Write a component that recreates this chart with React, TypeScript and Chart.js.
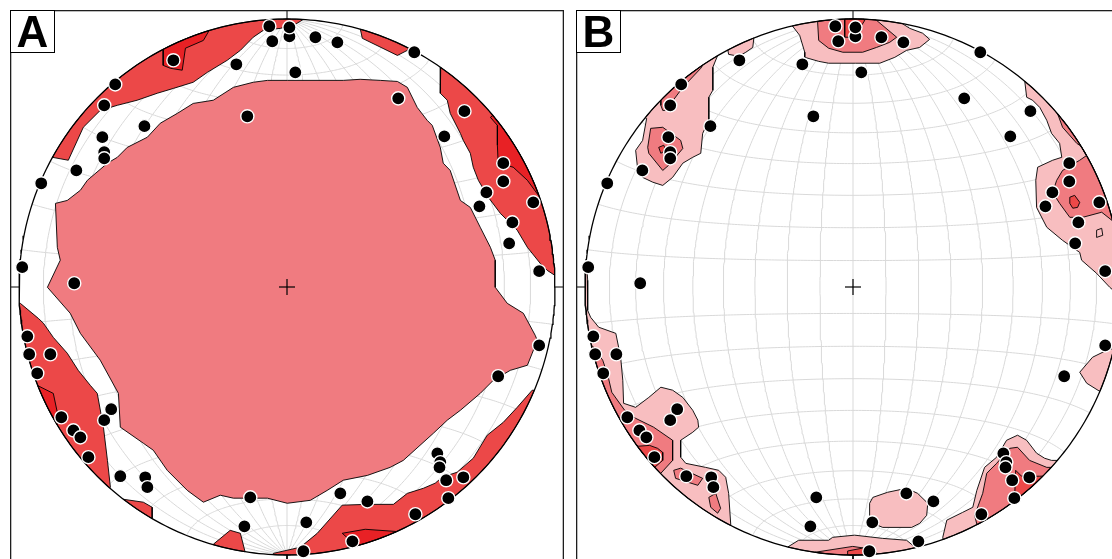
import { useEffect, useRef } from "react";
import { Chart, registerables } from "chart.js";

Chart.register(...registerables);

// Net geometry: primitive circle has radius 100 in data units.
const NET_R = 100;
const AXIS_LIMIT = 103.36;
const PANEL_SIZE = 554;
const GRID_STEP = 10;
const GRID_COLOR = "#d9d9d9";

const panelLabels = ["A", "B"];

// Grid: meridians every 10°, small circles about the N–S axis every 10° from ±8°.
const meridianLons = [-80, -70, -60, -50, -40, -30, -20, -10, 0, 10, 20, 30, 40, 50, 60, 70, 80];
const parallelLats = [-78, -68, -58, -48, -38, -28, -18, -8, 8, 18, 28, 38, 48, 58, 68, 78];

// Poles, equal-area projected (x east, y north), same set on both nets.
const poleX = [
  -6.6, 0.9, 0.9, -5.5, 10.6, 18.8, 3.1, -18.9, -42.4, -64.1, -68.2, -53.2, -68.9, -68.2, -68.2,
  -78.6, -91.7, -14.8, 47.5, 41.5, 66.2, 58.7, 80.7, 80.7, 74.4, 91.9, 71.8, 84.1, 82.9, 94.1,
  94.1, 78.8, -98.8, -79.4, -96.9, -96.2, -88.3, -93.2, -84.2, -79.7, -77.1, -74.1, -65.6, -68.2,
  -62.2, -52.9, -52.1, -13.7, -15.9, 6.1, 7.2, 24.4, 19.9, 30.0, 47.9, 60.2, 65.8, 59.4, 56.1,
  57.2, 56.9,
];
const poleY = [
  97.3, 93.5, 96.9, 91.7, 93.2, 91.3, 80.1, 83.1, 84.6, 75.6, 67.8, 60.0, 55.9, 50.3, 48.0,
  43.5, 38.7, 63.7, 87.6, 70.4, 65.6, 56.2, 46.2, 39.4, 35.3, 31.6, 30.1, 24.1, 16.3, 5.9,
  -21.8, -33.3, 7.4, 1.4, -18.4, -25.1, -25.1, -32.2, -48.6, -53.5, -56.1, -63.5, -45.6, -49.7,
  -70.6, -71.0, -74.7, -78.5, -89.3, -98.6, -87.8, -94.9, -77.0, -80.0, -84.8, -78.8, -71.0,
  -72.1, -62.1, -65.4, -67.3,
];

// Contour fill colours, lowest level first.
const fillsA = ["#F07B80", "#EC4848", "#E82125"];
const fillsB = ["#F8BEC0", "#F07B80", "#EC4848"];

type Ring = { level: number; xy: number[] };

// Density contours of net A (vertices beyond the rim are cut at the primitive circle).
const contoursA: Ring[] = [
  { level: 0, xy: [0.1, 77.1, 21.0, 77.1, 27.3, 77.5, 34.8, 77.1, 41.2, 76.7, 44.9, 74.5, 48.6, 67.0, 52.3, 62.2, 54.2, 60.3, 57.2, 52.1, 58.3, 46.2, 60.9, 43.5, 64.7, 32.3, 68.4, 29.7, 72.1, 22.3, 75.9, 14.8, 77.7, 10.0, 77.7, -0.1, 82.2, -6.1, 88.2, -9.8, 92.6, -18.0, 93.4, -19.9, 91.5, -24.7, 89.7, -29.2, 83.3, -31.1, 77.0, -34.8, 72.1, -39.7, 64.7, -46.0, 59.8, -49.7, 54.6, -54.6, 43.4, -64.7, 38.5, -67.3, 30.0, -70.3, 21.0, -72.1, 15.0, -75.9, 8.7, -79.6, 0.1, -80.7, -7.3, -78.8, -20.0, -78.8, -24.9, -77.7, -31.2, -80.3, -37.2, -75.9, -44.7, -68.4, -49.9, -60.9, -53.6, -58.3, -62.2, -52.3, -62.9, -39.7, -69.7, -27.3, -77.1, -17.3, -80.9, -9.8, -89.4, -0.1, -84.6, 10.0, -85.7, 14.8, -86.4, 31.2, -82.0, 32.3, -77.1, 36.1, -74.5, 39.8, -67.0, 46.2, -63.3, 48.4, -59.6, 52.1, -52.1, 55.9, -47.3, 61.1, -40.9, 64.8, -35.0, 68.5, -27.5, 69.7, -20.0, 74.5, -12.6, 76.4, -7.3, 77.1] },
  { level: 1, xy: [-87.6, 48.4, -81.6, 47.3, -76.0, 59.6, -69.7, 65.9, -63.3, 67.8, -55.9, 69.7, -48.4, 72.3, -42.4, 74.1, -35.0, 76.4, -29.7, 80.1, -22.3, 84.6, -17.4, 88.3, -12.6, 93.2, -8.8, 95.8, -2.5, 96.5, 3.1, 98.0, 6.8, 100.3, 10, 110, -60, 100, -100, 60, -100, 45] },
  { level: 1, xy: [27.3, 96.5, 28.1, 92.8, 41.2, 86.4, 44.9, 88.3, 50, 95, 30, 105] },
  { level: 1, xy: [57.2, 82.0, 57.2, 72.3, 59.8, 69.7, 60.9, 64.8, 64.7, 57.3, 65.8, 54.7, 68.4, 49.9, 69.5, 44.7, 71.4, 39.8, 75.1, 33.5, 79.6, 27.5, 85.9, 21.2, 89.7, 14.8, 94.5, 8.8, 97.1, 6.2, 100.5, 4.0, 110, 0, 110, 70, 60, 100] },
  { level: 1, xy: [-99.5, -6.1, -92.8, -11.7, -90.9, -13.5, -87.2, -18.8, -82.0, -24.7, -77.9, -31.1, -73.4, -36.7, -70.8, -39.7, -68.5, -52.3, -67.0, -64.7, -65.9, -74.7, -80, -90, -115, -40, -110, 0] },
  { level: 1, xy: [-61.1, -79.2, -53.6, -80.3, -50.3, -82.2, -50.3, -86.3, -55, -100, -75, -80] },
  { level: 1, xy: [-27.5, -96.0, -21.2, -90.8, -17.4, -91.9, -15.6, -99.0, -15, -110, -30, -105] },
  { level: 1, xy: [-5.1, -99.4, 5.0, -97.1, 11.3, -91.9, 20.6, -81.4, 30.0, -81.1, 39.7, -81.1, 44.9, -77.0, 50.9, -75.1, 55.3, -73.2, 57.9, -71.0, 63.5, -69.1, 69.5, -63.9, 74.7, -55.3, 80.7, -50.5, 85.9, -44.9, 91.5, -38.5, 110, -40, 60, -110, -5, -110] },
  { level: 2, xy: [-46.2, 88.7, -46.2, 82.7, -43.5, 81.6, -39.1, 80.9, -37.9, 89.1, -31.2, 92.0, -29.0, 95.8, -25, 105, -55, 95] },
  { level: 2, xy: [75.9, 63.3, 78.5, 60.3, 78.5, 52.9, 78.8, 46.2, 84.4, 44.7, 89.7, 39.8, 93.8, 34.2, 110, 40, 90, 75] },
  { level: 2, xy: [-93.2, -36.7, -87.2, -39.7, -85.7, -46.8, -84.6, -49.8, -100, -70, -110, -35] },
  { level: 2, xy: [20.6, -91.9, 29.2, -90.4, 40.4, -91.2, 50, -105, 30, -110, 24.4, -95.3] },
];

// Density contours of net B.
const contoursB: Ring[] = [
  { level: 0, xy: [-22.5, 97.3, -19.9, 93.9, -18.0, 87.6, -18.0, 85.7, -12.8, 84.2, -9.1, 83.5, 1.0, 83.5, 10.0, 83.5, 15.6, 85.7, 20.0, 88.3, 24.9, 89.4, 28.6, 92.4, 26.0, 94.7, 21.2, 96.5, 18.2, 98.4, 10, 110, -25, 105] },
  { level: 0, xy: [-46.7, 88.3, -46.4, 86.8, -42.6, 86.1, -40.0, 87.6, -37.4, 89.4, -37.0, 92.8, -35, 100, -50, 95] },
  { level: 0, xy: [-50.5, 86.4, -52.3, 82.0, -52.3, 73.4, -53.8, 70.8, -53.8, 62.2, -56.1, 57.3, -56.8, 49.9, -59.8, 48.4, -63.5, 46.2, -67.3, 40.9, -71.0, 37.9, -74.7, 39.1, -78.5, 40.9, -80.3, 43.5, -81.1, 51.0, -78.5, 54.7, -77.0, 62.9, -95, 70, -60, 100] },
  { level: 0, xy: [64.1, 76.7, 64.8, 70.8, 67.0, 69.7, 69.7, 67.0, 72.3, 62.2, 74.1, 57.3, 77.1, 53.6, 77.9, 48.4, 74.5, 47.3, 68.9, 44.7, 68.2, 39.8, 68.5, 29.7, 72.3, 22.3, 78.2, 17.4, 84.6, 12.9, 85.3, 10.0, 90.9, 5.1, 95.8, -0.1, 101.4, -5.0, 120, 0, 110, 60, 70, 90] },
  { level: 0, xy: [-99.7, 13.7, -99.0, 2.5, -99.0, -8.7, -97.9, -11.3, -94.9, -15.0, -88.5, -17.3, -86.7, -26.2, -85.9, -34.8, -85.6, -43.4, -81.1, -44.9, -76.2, -41.2, -71.7, -37.4, -67.3, -38.5, -63.5, -41.2, -59.8, -46.0, -57.9, -49.7, -57.6, -52.3, -59.8, -54.2, -64.3, -57.2, -64.3, -63.5, -62.4, -65.8, -55.0, -67.3, -50.1, -68.4, -47.5, -71.0, -46.4, -77.0, -45.6, -88.9, -50, -105, -90, -70, -110, 0, -105, 15] },
  { level: 0, xy: [6.2, -80.7, 7.4, -78.5, 12.9, -76.6, 20.0, -75.1, 24.1, -77.0, 27.9, -80.7, 27.5, -85.2, 24.9, -88.2, 21.9, -89.7, 11.1, -89.7, 7.4, -88.2, 6.2, -85.9] },
  { level: 0, xy: [-25.1, -97.5, -20.3, -94.5, -9.1, -94.5, -7.6, -93.4, 0.6, -92.6, 11.1, -93.8, 20.0, -94.5, 22.3, -96.4, 24.9, -97.1, 25, -110, -25, -110] },
  { level: 0, xy: [33.5, -93.4, 35.0, -87.0, 40.9, -84.1, 44.7, -82.2, 46.2, -75.9, 49.1, -67.3, 53.6, -63.5, 57.3, -57.2, 61.4, -55.3, 64.8, -57.2, 68.5, -62.0, 71.5, -63.9, 74.1, -64.7, 76.4, -64.7, 95, -60, 60, -110, 35, -105] },
  { level: 0, xy: [84.6, -31.8, 89.4, -26.2, 94.7, -23.6, 101.4, -21.8, 110, -40, 92.0, -38.9, 87.2, -35.9] },
  { level: 0, xy: [90.9, 21.2, 92.8, 21.9, 93.2, 19.3, 90.9, 18.5] },
  { level: 1, xy: [-13.2, 98.8, -12.8, 92.0, -9.1, 89.1, -3.8, 87.6, 3.6, 87.6, 8.8, 89.4, 13.7, 91.3, 16.3, 93.2, 8.8, 99.5, 0, 108] },
  { level: 1, xy: [-71.7, 69.7, -71.7, 67.8, -71.0, 65.9, -69.9, 65.9, -63.5, 74.5, -56.8, 81.6, -56.1, 82.7, -60, 95, -85, 70] },
  { level: 1, xy: [-75.5, 59.2, -71.0, 59.6, -64.3, 54.7, -63.5, 51.7, -68.8, 45.4, -71.0, 43.5, -76.2, 49.9, -76.6, 52.1] },
  { level: 1, xy: [75.6, 66.7, 78.2, 59.6, 83.5, 53.6, 85.7, 52.1, 87.2, 49.1, 84.6, 47.3, 78.2, 43.5, 76.0, 39.8, 74.5, 35.3, 77.1, 31.2, 80.9, 26.0, 85.7, 26.0, 92.8, 27.9, 97.6, 24.1, 110, 20, 100, 70, 75, 80] },
  { level: 1, xy: [-97.2, -22.0, -93.4, -27.3, -91.5, -32.9, -90.0, -39.3, -85.2, -46.0, -81.1, -49.0, -74.4, -52.3, -67.3, -57.2, -67.3, -64.7, -71.7, -69.5, -85, -75, -110, -30, -100, -20] },
  { level: 1, xy: [-66.9, -68.4, -64.3, -67.6, -56.1, -71.4, -57.9, -74.0, -66.2, -71.4] },
  { level: 1, xy: [-53.8, -78.5, -51.2, -77.0, -49.4, -82.6, -50.5, -84.4, -53.1, -82.2] },
  { level: 1, xy: [-14.3, -99.0, -0.1, -96.8, 7.4, -97.9, 10.0, -100.5, 0, -110] },
  { level: 1, xy: [46.2, -88.5, 45.4, -85.2, 48.4, -77.0, 49.9, -69.5, 53.6, -65.8, 58.5, -60.2, 61.4, -59.8, 65.9, -64.7, 72.3, -67.3, 74.5, -67.3, 90, -65, 55, -100] },
  { level: 2, xy: [-3.1, 99.9, -3.1, 93.2, -0.5, 93.2, 2.5, 96.5, 4.4, 99.5, 0, 106] },
  { level: 2, xy: [-72.5, 52.1, -70.6, 52.9, -69.9, 51.0, -71.7, 49.9] },
  { level: 2, xy: [80.9, 33.5, 82.7, 34.2, 84.6, 31.6, 83.8, 29.7, 82.0, 29.4, 80.9, 31.2] },
  { level: 2, xy: [-80.0, -59.4, -75.9, -59.1, -72.9, -60.2, -71.0, -61.7, -71.0, -64.7, -74.0, -67.3, -85, -75, -90, -55] },
  { level: 2, xy: [-2, -98.5, 4.8, -97.2, 7.4, -97.9, 8, -105, -2, -105] },
  { level: 2, xy: [60.7, -68.4, 62.9, -70.6, 69.7, -70.6, 85, -70, 70, -90, 60.3, -78.8] },
];

type Pt = { x: number; y: number };

const rad = (d: number) => (d * Math.PI) / 180;

// Lambert equal-area (Schmidt) projection of a lon/lat pair, poles at N and S.
function schmidt(lon: number, lat: number): Pt {
  const cl = Math.cos(rad(lat));
  const k = NET_R / Math.sqrt(1 + cl * Math.cos(rad(lon)));
  return { x: k * cl * Math.sin(rad(lon)), y: k * Math.sin(rad(lat)) };
}

// Sutherland–Hodgman clip of a ring against the primitive circle.
function clipToNet(flat: number[]): Pt[] {
  let out: Pt[] = [];
  for (let i = 0; i < flat.length; i += 2) out.push({ x: flat[i], y: flat[i + 1] });
  const n = 360;
  for (let k = 0; k < n && out.length; k++) {
    const a0 = (2 * Math.PI * k) / n;
    const a1 = (2 * Math.PI * (k + 1)) / n;
    const ax = NET_R * Math.cos(a0), ay = NET_R * Math.sin(a0);
    const bx = NET_R * Math.cos(a1), by = NET_R * Math.sin(a1);
    const side = (p: Pt) => (bx - ax) * (p.y - ay) - (by - ay) * (p.x - ax);
    const cut = (p: Pt, q: Pt): Pt => {
      const sp = side(p), sq = side(q);
      const t = sp / (sp - sq);
      return { x: p.x + (q.x - p.x) * t, y: p.y + (q.y - p.y) * t };
    };
    const input = out;
    out = [];
    for (let i = 0; i < input.length; i++) {
      const cur = input[i];
      const prev = input[(i + input.length - 1) % input.length];
      const cIn = side(cur) >= 0, pIn = side(prev) >= 0;
      if (cIn) {
        if (!pIn) out.push(cut(prev, cur));
        out.push(cur);
      } else if (pIn) {
        out.push(cut(prev, cur));
      }
    }
  }
  if (out.length) out.push({ ...out[0] });
  return out;
}

function lineSet(data: Pt[], color: string, width: number) {
  return { data, showLine: true, pointRadius: 0, borderColor: color, borderWidth: width, fill: false };
}

function buildDatasets(rings: Ring[], fills: string[]) {
  const ds: any[] = [];
  // meridians (great circles through N and S)
  for (const lon of meridianLons) {
    const d: Pt[] = [];
    for (let lat = -90; lat <= 90; lat += 1) d.push(schmidt(lon, lat));
    ds.push(lineSet(d, GRID_COLOR, 1));
  }
  // small circles about the N–S axis
  for (const lat of parallelLats) {
    const d: Pt[] = [];
    for (let lon = -90; lon <= 90; lon += 1) d.push(schmidt(lon, lat));
    ds.push(lineSet(d, GRID_COLOR, 1));
  }
  // contour fills, lowest level first
  const sorted = [...rings].sort((a, b) => a.level - b.level);
  for (const r of sorted) {
    ds.push({
      data: clipToNet(r.xy),
      showLine: true,
      pointRadius: 0,
      borderColor: "#000",
      borderWidth: 0.9,
      backgroundColor: fills[r.level],
      fill: "shape",
    });
  }
  // primitive circle
  const rim: Pt[] = [];
  for (let a = 0; a <= 360; a += 1) rim.push({ x: NET_R * Math.cos(rad(a)), y: NET_R * Math.sin(rad(a)) });
  ds.push(lineSet(rim, "#000", 1.3));
  // cardinal ticks from the rim to the frame
  for (let a = 0; a < 360; a += 90) {
    const c = Math.cos(rad(a)), s = Math.sin(rad(a));
    ds.push(lineSet([{ x: NET_R * c, y: NET_R * s }, { x: 106 * c, y: 106 * s }], "#000", 1));
  }
  // centre cross
  ds.push(lineSet([{ x: -3, y: 0 }, { x: 3, y: 0 }], "rgba(0,0,0,0.8)", 1.5));
  ds.push(lineSet([{ x: 0, y: -3 }, { x: 0, y: 3 }], "rgba(0,0,0,0.8)", 1.5));
  // poles
  ds.push({
    data: poleX.map((x, i) => ({ x, y: poleY[i] })),
    showLine: false,
    pointRadius: 6.6,
    pointBackgroundColor: "#000",
    pointBorderColor: "#fff",
    pointBorderWidth: 1.4,
  });
  ds.forEach((d, i) => (d.order = -i));
  return ds;
}

function framePlugin(label: string) {
  return {
    id: "panelFrame",
    afterDraw(chart: any) {
      const { ctx, chartArea: a } = chart;
      ctx.save();
      ctx.strokeStyle = "#1e1e1e";
      ctx.lineWidth = 1.3;
      ctx.strokeRect(a.left + 0.65, a.top + 0.65, a.right - a.left - 1.3, a.bottom - a.top - 1.3);
      ctx.fillStyle = "#fff";
      ctx.fillRect(a.left + 1, a.top + 1, 43.5, 41.5);
      ctx.lineWidth = 1;
      ctx.strokeStyle = "#000";
      ctx.strokeRect(a.left + 0.5, a.top + 0.5, 44, 42);
      ctx.fillStyle = "#000";
      ctx.font = 'bold 44px "Liberation Sans", Arial, sans-serif';
      ctx.textAlign = "center";
      ctx.textBaseline = "alphabetic";
      ctx.fillText(label, a.left + 22.5, a.top + 37);
      ctx.restore();
    },
  };
}

function StereoPanel({ label, rings, fills, left }: { label: string; rings: Ring[]; fills: string[]; left: number }) {
  const ref = useRef<HTMLCanvasElement | null>(null);
  useEffect(() => {
    const canvas = ref.current;
    if (!canvas) return;
    const chart = new Chart(canvas, {
      type: "scatter",
      data: { datasets: buildDatasets(rings, fills) },
      options: {
        responsive: false,
        animation: false,
        devicePixelRatio: 1,
        events: [],
        layout: { padding: 0, autoPadding: false },
        plugins: { legend: { display: false }, tooltip: { enabled: false } },
        scales: {
          x: { type: "linear", min: -AXIS_LIMIT, max: AXIS_LIMIT, display: false },
          y: { type: "linear", min: -AXIS_LIMIT, max: AXIS_LIMIT, display: false },
        },
      } as any,
      plugins: [framePlugin(label)],
    });
    return () => chart.destroy();
  }, [label, rings, fills]);
  return (
    <canvas
      ref={ref}
      width={PANEL_SIZE}
      height={PANEL_SIZE}
      style={{ position: "absolute", left, top: 10, width: PANEL_SIZE, height: PANEL_SIZE }}
    />
  );
}

export default function App() {
  return (
    <div style={{ position: "fixed", left: 0, top: 0, width: 1112, height: 559, overflow: "hidden", background: "#fff" }}>
      <StereoPanel label={panelLabels[0]} rings={contoursA} fills={fillsA} left={10} />
      <StereoPanel label={panelLabels[1]} rings={contoursB} fills={fillsB} left={576} />
    </div>
  );
}
